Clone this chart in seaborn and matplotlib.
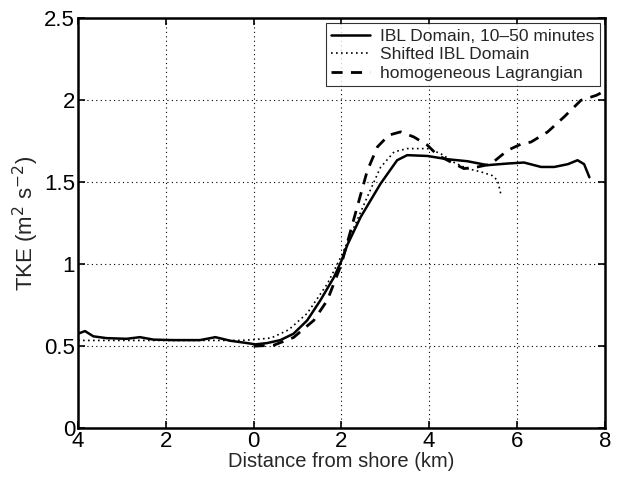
import matplotlib
matplotlib.use("Agg")
import matplotlib.pyplot as plt
import seaborn as sns
import pandas as pd
import numpy as np

# IBL Domain, 10-50 minutes (solid)
ibl_x = [-4.0, -3.84, -3.65, -3.35, -2.89, -2.59, -2.28, -1.83, -1.22, -0.87, -0.53, -0.15, 0.04,
         0.31, 0.61, 0.91, 1.22, 1.52, 1.83, 2.0, 2.14, 2.44, 2.89, 3.27, 3.50, 3.96, 4.42, 4.87,
         5.33, 5.79, 6.16, 6.55, 6.85, 7.16, 7.38, 7.53, 7.65]
ibl_y = [0.576, 0.592, 0.560, 0.549, 0.545, 0.555, 0.540, 0.537, 0.537, 0.555, 0.533, 0.519, 0.511,
         0.519, 0.537, 0.576, 0.657, 0.779, 0.920, 1.02, 1.12, 1.288, 1.49, 1.634, 1.665, 1.66, 1.64,
         1.628, 1.604, 1.614, 1.62, 1.593, 1.593, 1.61, 1.634, 1.61, 1.53]

# Shifted IBL Domain (dotted)
shift_x = [-4.0, -3.0, -2.0, -1.0, -0.3, 0.0, 0.4, 0.8, 1.22, 1.68, 2.0, 2.59, 2.89, 3.20, 3.50,
           3.96, 4.26, 4.57, 4.87, 5.18, 5.44, 5.56, 5.63]
shift_y = [0.535, 0.535, 0.535, 0.535, 0.535, 0.54, 0.55, 0.60, 0.70, 0.88, 1.05, 1.41, 1.59,
           1.685, 1.705, 1.705, 1.675, 1.62, 1.583, 1.563, 1.54, 1.51, 1.43]

# homogeneous Lagrangian (dashed)
lag_x = [0.0, 0.46, 0.91, 1.37, 1.68, 2.0, 2.32, 2.59, 2.82, 3.08, 3.35, 3.65, 3.96, 4.19, 4.49,
         4.79, 5.10, 5.40, 5.79, 6.09, 6.32, 6.70, 7.08, 7.46, 7.81, 7.99]
lag_y = [0.50, 0.506, 0.553, 0.657, 0.78, 1.0, 1.31, 1.57, 1.715, 1.787, 1.807, 1.776, 1.726,
         1.665, 1.624, 1.583, 1.593, 1.61, 1.695, 1.732, 1.745, 1.807, 1.90, 2.0, 2.03, 2.055]

x_ticks = [-4, -2, 0, 2, 4, 6, 8]
x_tick_labels = ["4", "2", "0", "2", "4", "6", "8"]
y_ticks = [0, 0.5, 1, 1.5, 2, 2.5]
y_tick_labels = ["0", "0.5", "1", "1.5", "2", "2.5"]

labels = ["IBL Domain, 10\u201350 minutes", "Shifted IBL Domain", "homogeneous Lagrangian"]

df = pd.concat([
    pd.DataFrame({"x": ibl_x, "y": ibl_y, "series": labels[0]}),
    pd.DataFrame({"x": shift_x, "y": shift_y, "series": labels[1]}),
    pd.DataFrame({"x": lag_x, "y": lag_y, "series": labels[2]}),
], ignore_index=True)

sns.set_style("ticks")
plt.rcParams["font.family"] = ["Liberation Sans", "DejaVu Sans"]

fig = plt.figure(figsize=(6.19, 4.80), dpi=100)
ax = fig.add_axes([0.126, 0.108, 0.851, 0.854])

styles = {labels[0]: (1.8, "-"), labels[1]: (1.2, (0, (1, 2))), labels[2]: (2.0, (0, (4, 3)))}
for lab in labels:
    sub = df[df["series"] == lab]
    lw, ls = styles[lab]
    sns.lineplot(data=sub, x="x", y="y", ax=ax, color="black", linewidth=lw,
                 linestyle=ls, label=lab, sort=False, estimator=None)

ax.set_xlim(-4, 8)
ax.set_ylim(0, 2.5)
ax.set_xticks(x_ticks)
ax.set_xticklabels(x_tick_labels)
ax.set_yticks(y_ticks)
ax.set_yticklabels(y_tick_labels)
ax.tick_params(direction="in", length=5, width=1.2, labelsize=16, colors="black",
               top=True, right=True, pad=2)
ax.grid(True, color="black", linestyle=(0, (1, 3)), linewidth=0.8)
for s in ax.spines.values():
    s.set_linewidth(1.8)
    s.set_color("black")
    s.set_visible(True)

ax.set_xlabel("Distance from shore (km)", fontsize=14.5, labelpad=0)
ax.set_ylabel("TKE (m$^2$ s$^{-2}$)", fontsize=16, labelpad=2)

leg = ax.legend(loc="upper right", fontsize=12.5, frameon=True, fancybox=False,
                edgecolor="black", borderaxespad=0.3, handlelength=2.2,
                labelspacing=0.2, borderpad=0.3, handletextpad=0.6)
leg.get_frame().set_linewidth(0.8)

fig.savefig("out.png", dpi=100)
